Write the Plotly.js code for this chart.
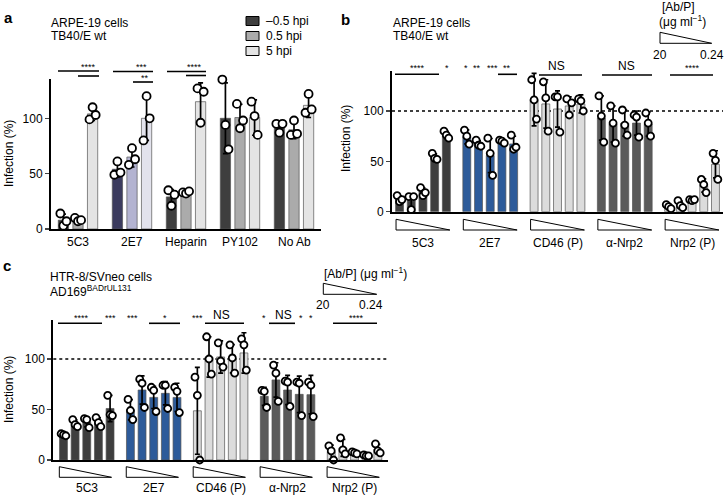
<!DOCTYPE html>
<html><head><meta charset="utf-8">
<script src="https://cdn.plot.ly/plotly-3.0.1.min.js"></script>
<style>html,body{margin:0;padding:0;background:#fff}#chart{width:725px;height:496px}</style>
</head><body><div id="chart"></div>
<script>
// ---------- DATA ----------
// Panel a
const aGroups = ['5C3','2E7','Heparin','PY102','No Ab'];
const aTimes = ['\u20130.5 hpi','0.5 hpi','5 hpi'];
const aMean = [[8,54,29,100,92.3],[8.3,65,33,100.7,89.7],[104,100,115,100.7,111.7]];
const aSD = [[5.5,7,6.5,32,4.6],[1.5,9,1,12,8],[6,20,17,16,11]];
const aPts = [
 [[14,3,7],[49,61,51],[35,21,31],[135,94,72],[95,87,95]],
 [[10,7,8],[58,73,63],[33,32,34],[113,91,98],[85,98,86]],
 [[99,110,103],[80,120,100],[127,96,124],[115,102,85],[105,122,108]]
];
// Panel b
const bGroups = ['5C3','2E7','CD46 (P)','\u03b1-Nrp2','Nrp2 (P)'];
const bMean = [
 [12.7,10.7,19.7,54.3,76.3],
 [74.3,67.3,55.7,69.7,67.3],
 [111.3,107,102,105,107],
 [93,87,88,88,87],
 [5,7,11.7,26,47]
];
const bSD = [
 [3,7,4,3.2,3.5],
 [7,3.2,17,1.5,7.6],
 [26,24,18,9,9],
 [22,18,13,12,12],
 [2,3.5,1,6.5,13.5]
];
const bPts = [
 [[16,10,12],[15,2,15],[24,16,19],[58,53,52],[80,76,73]],
 [[81,75,67],[71,66,65],[73,58,36],[71,70,68],[76,62,64]],
 [[131,111,92],[129,113,80],[114,114,79],[112,96,108],[112,110,100]],
 [[115,95,69],[105,88,68],[101,86,76],[96,94,74],[98,88,75]],
 [[7,5,3],[11,6,4],[12,11,12],[32,27,19],[58,51,32]]
];
// Panel c
const cGroups = ['5C3','2E7','CD46 (P)','\u03b1-Nrp2','Nrp2 (P)'];
const cMean = [
 [25,36,37.7,37.3,51],
 [49.7,69.3,62,66,62],
 [48.7,102,102,100.3,106],
 [63,79.3,69.3,65,64.7],
 [7.7,12,7,4.3,10.7]
];
const cSD = [
 [1,3.6,5,4.5,13],
 [10,14,11,11.5,14],
 [43,20,16,14,20],
 [9,17,14.5,18,19],
 [7,8.5,1,0.6,4.7]
];
const cPts = [
 [[26,25,24],[40,35,33],[41,40,32],[42,37,33],[64,45,44]],
 [[60,49,40],[80,76,52],[72,69,48],[74,74,51],[72,68,47]],
 [[82,64,0],[122,100,85],[116,98,92],[114,101,86],[120,114,89]],
 [[69,68,52],[94,86,58],[78,77,53],[77,76,44],[77,74,43]],
 [[14,9,0],[22,10,6],[8,7,6],[5,4,4],[16,9,7]]
];
const concLo = '20', concHi = '0.24';

// ---------- STYLE ----------
const FONT = 'Liberation Sans, Arial, Helvetica, sans-serif';
const FS = 12;
const W = 725, H = 496;
const X = px => px / W, Y = py => 1 - py / H;
const greys = ['#3e3e3e', '#ababab', '#e4e4e4'];
const navy = ['#3b3b5e', '#b3b3d1', '#e2e2ec'];
const colA = (t, g) => (g === 1 ? navy[t] : greys[t]);
const groupCol = ['#3e3e3e', '#2d5b9a', '#dcdcdc', '#5a5a5a', '#dcdcdc'];
const jit = [-0.3, 0, 0.3];

const traces = [];
function addBars(nSub, nGroup, meanFn, sdFn, ptsFn, colFn, pitch, bw, xa, ya, psize) {
  const px = [], py = [];
  for (let k = 0; k < nSub; k++) {
    const xs = [], ys = [], es = [], cs = [];
    for (let g = 0; g < nGroup; g++) {
      const xc = g + (k - (nSub - 1) / 2) * pitch;
      xs.push(xc); ys.push(meanFn(g, k)); es.push(sdFn(g, k)); cs.push(colFn(g, k));
      ptsFn(g, k).forEach((v, i) => { px.push(xc + jit[i] * bw); py.push(v); });
    }
    traces.push({type: 'bar', x: xs, y: ys, width: bw, xaxis: xa, yaxis: ya,
      marker: {color: cs, line: {color: '#555', width: 0.7}},
      error_y: {type: 'data', array: es, visible: true, color: '#000', thickness: 1.7, width: 2.5},
      hoverinfo: 'skip'});
  }
  traces.push({type: 'scatter', mode: 'markers', x: px, y: py, xaxis: xa, yaxis: ya, cliponaxis: false,
    marker: {symbol: 'circle', size: psize, color: '#fff', line: {color: '#000', width: 1.8}}, hoverinfo: 'skip'});
}
addBars(3, 5, (g, k) => aMean[k][g], (g, k) => aSD[k][g], (g, k) => aPts[k][g], (g, k) => colA(k, g), 0.27, 0.19, 'x', 'y', 8);
addBars(5, 5, (g, k) => bMean[g][k], (g, k) => bSD[g][k], (g, k) => bPts[g][k], (g, k) => groupCol[g], 0.174, 0.118, 'x2', 'y2', 7);
addBars(5, 5, (g, k) => cMean[g][k], (g, k) => cSD[g][k], (g, k) => cPts[g][k], (g, k) => groupCol[g], 0.174, 0.118, 'x3', 'y3', 7);

const axisX = (d0, d1, r) => ({domain: [X(d0), X(d1)], range: r, showline: true, linewidth: 2.2, linecolor: '#000',
  showticklabels: false, ticks: '', showgrid: false, zeroline: false, fixedrange: true});
const axisY = (p0, p1, r, anchor) => ({domain: [Y(p1), Y(p0)], range: r, anchor: anchor, showline: true, linewidth: 2,
  linecolor: '#000', ticks: 'outside', ticklen: 4, tickwidth: 1.5, tickvals: [0, 50, 100], showgrid: false,
  zeroline: false, tickfont: {family: FONT, size: FS, color: '#000'}, fixedrange: true});

const ann = [], shapes = [];
function txt(x, y, t, o) {
  ann.push(Object.assign({xref: 'paper', yref: 'paper', x: X(x), y: Y(y), text: t, showarrow: false,
    xanchor: 'center', yanchor: 'middle', font: {family: FONT, size: FS, color: '#000'}}, o || {}));
}
function line(x0, x1, y) {
  shapes.push({type: 'line', xref: 'paper', yref: 'paper', x0: X(x0), x1: X(x1), y0: Y(y), y1: Y(y), line: {color: '#000', width: 1.6}});
}
function stars(x, y, t) { txt(x, y, t, {font: {family: FONT, size: 9, color: '#000'}}); }
function wedge(xl, xr, yt, yb, xref) {
  const ref = xref || 'paper';
  const fx = ref === 'paper' ? X : (v => v);
  shapes.push({type: 'path', xref: ref, yref: 'paper',
    path: `M ${fx(xl)},${Y(yt)} L ${fx(xl)},${Y(yb)} L ${fx(xr)},${Y(yb)} Z`,
    fillcolor: '#fff', line: {color: '#000', width: 1}});
}
const big = {family: FONT, size: 15, color: '#000'};

// panel letters & headers
txt(2, 17, '<b>a</b>', {xanchor: 'left', font: big});
txt(339, 19, '<b>b</b>', {xanchor: 'left', font: big});
txt(1, 265, '<b>c</b>', {xanchor: 'left', font: big});
txt(49, 23, 'ARPE-19 cells', {xanchor: 'left'});
txt(49, 36, 'TB40/E wt', {xanchor: 'left'});
txt(391, 23, 'ARPE-19 cells', {xanchor: 'left'});
txt(391, 36, 'TB40/E wt', {xanchor: 'left'});
txt(48, 277, 'HTR-8/SVneo cells', {xanchor: 'left'});
txt(48, 291, 'AD169<sup>BADrUL131</sup>', {xanchor: 'left'});

// y titles
txt(9, 154, 'Infection (%)', {textangle: -90});
txt(346, 139, 'Infection (%)', {textangle: -90});
txt(9, 390, 'Infection (%)', {textangle: -90});

// legend panel a
aTimes.forEach((t, i) => {
  const yc = 21 + i * 15;
  shapes.push({type: 'rect', xref: 'paper', yref: 'paper', x0: X(246), x1: X(259), y0: Y(yc + 4.5), y1: Y(yc - 4.5),
    fillcolor: greys[i], line: {color: '#000', width: 1}});
  txt(264, yc, t, {xanchor: 'left'});
});

// group labels
aGroups.forEach((g, i) => ann.push({xref: 'x', yref: 'paper', x: i, y: Y(242), text: g, showarrow: false,
  xanchor: 'center', yanchor: 'middle', font: {family: FONT, size: FS, color: '#000'}}));
bGroups.forEach((g, i) => {
  ann.push({xref: 'x2', yref: 'paper', x: i, y: Y(243), text: g, showarrow: false,
    xanchor: 'center', yanchor: 'middle', font: {family: FONT, size: FS, color: '#000'}});
  wedge(i - 0.4, i + 0.4, 219.3, 230, 'x2');
});
cGroups.forEach((g, i) => {
  ann.push({xref: 'x3', yref: 'paper', x: i, y: Y(488), text: g, showarrow: false,
    xanchor: 'center', yanchor: 'middle', font: {family: FONT, size: FS, color: '#000'}});
  wedge(i - 0.41, i + 0.37, 466.7, 477.3, 'x3');
});

// concentration keys
txt(678, 7, '[Ab/P]');
txt(682, 21, '(\u03bcg ml<sup>\u22121</sup>)');
wedge(660, 711.7, 32.3, 43.3);
txt(660, 55, concLo);
txt(712, 55, concHi);
txt(322, 273, '[Ab/P] (\u03bcg ml<sup>\u22121</sup>)', {xanchor: 'left'});
wedge(323.3, 376.7, 283.3, 294.3);
txt(323, 305, concLo);
txt(371, 305, concHi);

// dotted 100 lines
[['x2', 'y2'], ['x3', 'y3']].forEach(([xa, ya]) => shapes.push({type: 'line', xref: xa + ' domain', yref: ya,
  x0: 0, x1: 1, y0: 100, y1: 100, layer: 'below', line: {color: '#000', width: 1.4, dash: 'dot'}}));

// significance panel a
line(58, 99, 71); line(78, 99, 76); stars(88, 67, '****');
line(113, 153, 71.5); line(133, 153, 82); stars(141, 67, '***'); stars(145, 78, '**');
line(167, 206, 71.5); line(186, 206, 75.5); stars(194, 67, '****');
// panel b
line(395, 439, 74.3); stars(418, 68, '****'); stars(447, 68, '*');
stars(466, 68, '*'); stars(477, 68, '**'); stars(492, 68, '***'); stars(507, 68, '**'); line(498, 517, 74.3);
txt(556, 66, 'NS'); line(539, 582, 75);
txt(626, 66, 'NS'); line(602, 652, 75);
stars(692, 68, '****'); line(670, 713, 75);
// panel c
line(58, 102, 323.3); stars(81, 318, '****'); stars(110, 318, '***'); stars(132, 318, '***');
stars(165, 318, '*'); line(149, 180, 323.3);
stars(197, 318, '***'); txt(222, 315, 'NS'); line(205, 244, 323.3);
stars(264, 318, '*'); txt(283, 315, 'NS'); line(269, 295, 323.3); stars(301, 318, '*'); stars(311, 318, '*');
stars(356, 318, '****'); line(333, 377, 323.3);

const layout = {
  width: W, height: H, margin: {l: 0, r: 0, t: 0, b: 0}, paper_bgcolor: '#fff', plot_bgcolor: 'rgba(0,0,0,0)',
  showlegend: false, barmode: 'overlay', font: {family: FONT, size: FS, color: '#000'},
  xaxis: axisX(51, 321, [-0.5, 4.5]), yaxis: axisY(79, 229, [0, 135.5], 'x'),
  xaxis2: axisX(392, 723, [-0.46, 4.46]), yaxis2: axisY(70.7, 211.7, [0, 140], 'x2'),
  xaxis3: axisX(53.3, 388, [-0.5, 4.5]), yaxis3: axisY(319.6, 460, [0, 139], 'x3'),
  annotations: ann, shapes: shapes
};
layout.xaxis.anchor = 'y'; layout.xaxis2.anchor = 'y2'; layout.xaxis3.anchor = 'y3';
Plotly.newPlot('chart', traces, layout, {staticPlot: true, displayModeBar: false});
</script></body></html>
